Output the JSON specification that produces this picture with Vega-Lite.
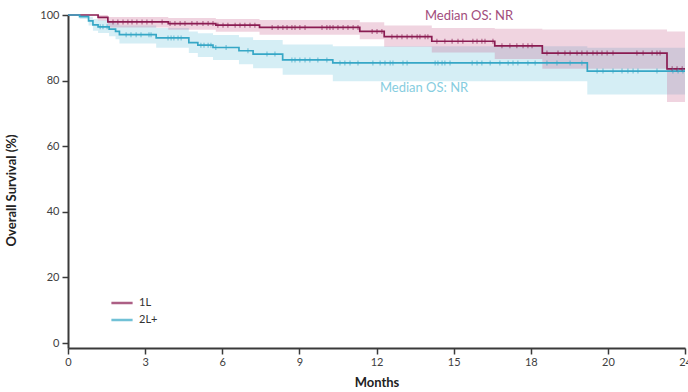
{
  "$schema": "https://vega.github.io/schema/vega-lite/v6.json",
  "width": 617,
  "height": 333,
  "autosize": "none",
  "padding": {"left": 68, "top": 15, "right": 3, "bottom": 44},
  "background": "white",
  "config": {
    "font": "Lato",
    "view": {"stroke": null},
    "axis": {
      "grid": false,
      "domainColor": "#3a3a3a",
      "domainWidth": 2,
      "tickColor": "#3a3a3a",
      "tickWidth": 1.5,
      "tickSize": 6,
      "labelFont": "Lato",
      "labelFontSize": 11,
      "labelColor": "#404040",
      "titleFont": "Lato",
      "titleFontSize": 13,
      "titleFontWeight": "bold",
      "titleColor": "#222222"
    }
  },
  "datasets": {
    "curves": [
      {"group": "1L", "month": 0, "surv": 100, "lo": 100, "hi": 100},
      {"group": "1L", "month": 1.17, "surv": 99.3, "lo": 98.3, "hi": 100},
      {"group": "1L", "month": 1.55, "surv": 97.9, "lo": 96.2, "hi": 99.4},
      {"group": "1L", "month": 3.9, "surv": 97.4, "lo": 95.5, "hi": 99.1},
      {"group": "1L", "month": 5.75, "surv": 96.9, "lo": 94.9, "hi": 98.8},
      {"group": "1L", "month": 7.45, "surv": 96.2, "lo": 94.0, "hi": 98.5},
      {"group": "1L", "month": 11.35, "surv": 95.0, "lo": 92.6, "hi": 97.8},
      {"group": "1L", "month": 12.3, "surv": 93.4, "lo": 90.3, "hi": 96.8},
      {"group": "1L", "month": 14.15, "surv": 92.0, "lo": 88.6, "hi": 96.0},
      {"group": "1L", "month": 16.6, "surv": 90.6, "lo": 86.6, "hi": 95.8},
      {"group": "1L", "month": 18.45, "surv": 88.4, "lo": 83.6, "hi": 95.6},
      {"group": "1L", "month": 23.3, "surv": 83.6, "lo": 73.5, "hi": 95.0},
      {"group": "1L", "month": 24, "surv": 83.6, "lo": 73.5, "hi": 95.0},
      {"group": "2L+", "month": 0, "surv": 100, "lo": 100, "hi": 100},
      {"group": "2L+", "month": 0.45, "surv": 99.5, "lo": 98.8, "hi": 100},
      {"group": "2L+", "month": 0.8, "surv": 98.2, "lo": 96.8, "hi": 99.5},
      {"group": "2L+", "month": 0.97, "surv": 97.0, "lo": 95.2, "hi": 98.8},
      {"group": "2L+", "month": 1.17, "surv": 96.4, "lo": 94.5, "hi": 98.4},
      {"group": "2L+", "month": 1.6, "surv": 95.7, "lo": 93.5, "hi": 97.9},
      {"group": "2L+", "month": 1.85, "surv": 95.0, "lo": 92.6, "hi": 97.4},
      {"group": "2L+", "month": 2.0, "surv": 94.0, "lo": 91.3, "hi": 96.8},
      {"group": "2L+", "month": 3.43, "surv": 93.0, "lo": 90.0, "hi": 96.0},
      {"group": "2L+", "month": 4.7, "surv": 91.6, "lo": 88.4, "hi": 95.0},
      {"group": "2L+", "month": 5.05, "surv": 90.8, "lo": 87.2, "hi": 94.4},
      {"group": "2L+", "month": 5.64, "surv": 90.1, "lo": 86.3, "hi": 93.9},
      {"group": "2L+", "month": 6.65, "surv": 89.1, "lo": 85.0, "hi": 93.2},
      {"group": "2L+", "month": 7.2, "surv": 88.1, "lo": 83.8, "hi": 92.4},
      {"group": "2L+", "month": 8.35, "surv": 86.3, "lo": 81.8, "hi": 91.0},
      {"group": "2L+", "month": 10.3, "surv": 85.4, "lo": 79.8, "hi": 90.5},
      {"group": "2L+", "month": 20.2, "surv": 82.9, "lo": 75.8, "hi": 90.0},
      {"group": "2L+", "month": 24, "surv": 82.9, "lo": 75.8, "hi": 90.0}
    ],
    "censor": [
      {"group": "1L", "month": 1.75, "surv": 97.9}, {"group": "1L", "month": 1.94, "surv": 97.9},
      {"group": "1L", "month": 2.14, "surv": 97.9}, {"group": "1L", "month": 2.33, "surv": 97.9},
      {"group": "1L", "month": 2.49, "surv": 97.9}, {"group": "1L", "month": 2.68, "surv": 97.9},
      {"group": "1L", "month": 2.88, "surv": 97.9}, {"group": "1L", "month": 3.07, "surv": 97.9},
      {"group": "1L", "month": 3.27, "surv": 97.9}, {"group": "1L", "month": 3.66, "surv": 97.9},
      {"group": "1L", "month": 3.97, "surv": 97.4}, {"group": "1L", "month": 4.16, "surv": 97.4},
      {"group": "1L", "month": 4.36, "surv": 97.4}, {"group": "1L", "month": 4.55, "surv": 97.4},
      {"group": "1L", "month": 4.82, "surv": 97.4}, {"group": "1L", "month": 5.02, "surv": 97.4},
      {"group": "1L", "month": 5.25, "surv": 97.4}, {"group": "1L", "month": 5.45, "surv": 97.4},
      {"group": "1L", "month": 5.64, "surv": 97.4},
      {"group": "1L", "month": 5.83, "surv": 96.9}, {"group": "1L", "month": 6.03, "surv": 96.9},
      {"group": "1L", "month": 6.22, "surv": 96.9}, {"group": "1L", "month": 6.5, "surv": 96.9},
      {"group": "1L", "month": 6.69, "surv": 96.9}, {"group": "1L", "month": 6.88, "surv": 96.9},
      {"group": "1L", "month": 7.08, "surv": 96.9}, {"group": "1L", "month": 7.27, "surv": 96.9},
      {"group": "1L", "month": 7.94, "surv": 96.2}, {"group": "1L", "month": 8.17, "surv": 96.2},
      {"group": "1L", "month": 8.36, "surv": 96.2}, {"group": "1L", "month": 8.52, "surv": 96.2},
      {"group": "1L", "month": 8.71, "surv": 96.2}, {"group": "1L", "month": 8.83, "surv": 96.2},
      {"group": "1L", "month": 9.02, "surv": 96.2}, {"group": "1L", "month": 9.22, "surv": 96.2},
      {"group": "1L", "month": 9.88, "surv": 96.2}, {"group": "1L", "month": 10.07, "surv": 96.2},
      {"group": "1L", "month": 10.19, "surv": 96.2}, {"group": "1L", "month": 10.31, "surv": 96.2},
      {"group": "1L", "month": 10.5, "surv": 96.2}, {"group": "1L", "month": 10.7, "surv": 96.2},
      {"group": "1L", "month": 10.89, "surv": 96.2}, {"group": "1L", "month": 11.09, "surv": 96.2},
      {"group": "1L", "month": 11.28, "surv": 96.2},
      {"group": "1L", "month": 11.83, "surv": 95.0}, {"group": "1L", "month": 12.02, "surv": 95.0},
      {"group": "1L", "month": 12.21, "surv": 95.0},
      {"group": "1L", "month": 12.6, "surv": 93.4}, {"group": "1L", "month": 12.8, "surv": 93.4},
      {"group": "1L", "month": 12.99, "surv": 93.4}, {"group": "1L", "month": 13.19, "surv": 93.4},
      {"group": "1L", "month": 13.38, "surv": 93.4}, {"group": "1L", "month": 13.58, "surv": 93.4},
      {"group": "1L", "month": 13.69, "surv": 93.4}, {"group": "1L", "month": 13.89, "surv": 93.4},
      {"group": "1L", "month": 14.0, "surv": 93.4},
      {"group": "1L", "month": 14.35, "surv": 92.0}, {"group": "1L", "month": 14.66, "surv": 92.0},
      {"group": "1L", "month": 14.94, "surv": 92.0}, {"group": "1L", "month": 15.17, "surv": 92.0},
      {"group": "1L", "month": 15.36, "surv": 92.0}, {"group": "1L", "month": 15.75, "surv": 92.0},
      {"group": "1L", "month": 15.91, "surv": 92.0}, {"group": "1L", "month": 16.1, "surv": 92.0},
      {"group": "1L", "month": 16.22, "surv": 92.0}, {"group": "1L", "month": 16.53, "surv": 92.0},
      {"group": "1L", "month": 16.88, "surv": 90.6}, {"group": "1L", "month": 17.19, "surv": 90.6},
      {"group": "1L", "month": 17.46, "surv": 90.6}, {"group": "1L", "month": 17.7, "surv": 90.6},
      {"group": "1L", "month": 17.89, "surv": 90.6}, {"group": "1L", "month": 18.05, "surv": 90.6},
      {"group": "1L", "month": 18.63, "surv": 88.4}, {"group": "1L", "month": 19.06, "surv": 88.4},
      {"group": "1L", "month": 19.33, "surv": 88.4}, {"group": "1L", "month": 19.53, "surv": 88.4},
      {"group": "1L", "month": 19.8, "surv": 88.4}, {"group": "1L", "month": 19.99, "surv": 88.4},
      {"group": "1L", "month": 20.19, "surv": 88.4}, {"group": "1L", "month": 20.42, "surv": 88.4},
      {"group": "1L", "month": 20.58, "surv": 88.4}, {"group": "1L", "month": 20.77, "surv": 88.4},
      {"group": "1L", "month": 20.97, "surv": 88.4}, {"group": "1L", "month": 21.2, "surv": 88.4},
      {"group": "1L", "month": 22.13, "surv": 88.4}, {"group": "1L", "month": 22.37, "surv": 88.4},
      {"group": "1L", "month": 22.72, "surv": 88.4}, {"group": "1L", "month": 22.91, "surv": 88.4},
      {"group": "1L", "month": 23.03, "surv": 88.4},
      {"group": "1L", "month": 23.5, "surv": 83.6}, {"group": "1L", "month": 23.69, "surv": 83.6},
      {"group": "1L", "month": 23.89, "surv": 83.6},
      {"group": "2L+", "month": 1.25, "surv": 96.4}, {"group": "2L+", "month": 1.36, "surv": 96.4},
      {"group": "2L+", "month": 1.52, "surv": 96.4},
      {"group": "2L+", "month": 2.26, "surv": 94.0}, {"group": "2L+", "month": 2.45, "surv": 94.0},
      {"group": "2L+", "month": 2.65, "surv": 94.0}, {"group": "2L+", "month": 2.84, "surv": 94.0},
      {"group": "2L+", "month": 3.15, "surv": 94.0}, {"group": "2L+", "month": 3.23, "surv": 94.0},
      {"group": "2L+", "month": 3.89, "surv": 93.0}, {"group": "2L+", "month": 4.01, "surv": 93.0},
      {"group": "2L+", "month": 4.12, "surv": 93.0}, {"group": "2L+", "month": 4.28, "surv": 93.0},
      {"group": "2L+", "month": 4.4, "surv": 93.0},
      {"group": "2L+", "month": 5.17, "surv": 90.8}, {"group": "2L+", "month": 5.29, "surv": 90.8},
      {"group": "2L+", "month": 5.45, "surv": 90.8}, {"group": "2L+", "month": 5.56, "surv": 90.8},
      {"group": "2L+", "month": 5.75, "surv": 90.1}, {"group": "2L+", "month": 6.15, "surv": 90.1},
      {"group": "2L+", "month": 7.0, "surv": 89.1},
      {"group": "2L+", "month": 7.74, "surv": 88.1}, {"group": "2L+", "month": 8.05, "surv": 88.1},
      {"group": "2L+", "month": 8.71, "surv": 86.3}, {"group": "2L+", "month": 8.83, "surv": 86.3},
      {"group": "2L+", "month": 9.02, "surv": 86.3}, {"group": "2L+", "month": 9.22, "surv": 86.3},
      {"group": "2L+", "month": 9.41, "surv": 86.3}, {"group": "2L+", "month": 9.72, "surv": 86.3},
      {"group": "2L+", "month": 10.07, "surv": 86.3},
      {"group": "2L+", "month": 10.58, "surv": 85.4}, {"group": "2L+", "month": 10.77, "surv": 85.4},
      {"group": "2L+", "month": 10.97, "surv": 85.4}, {"group": "2L+", "month": 11.28, "surv": 85.4},
      {"group": "2L+", "month": 11.86, "surv": 85.4}, {"group": "2L+", "month": 12.14, "surv": 85.4},
      {"group": "2L+", "month": 12.33, "surv": 85.4}, {"group": "2L+", "month": 12.53, "surv": 85.4},
      {"group": "2L+", "month": 12.64, "surv": 85.4}, {"group": "2L+", "month": 13.03, "surv": 85.4},
      {"group": "2L+", "month": 13.19, "surv": 85.4}, {"group": "2L+", "month": 14.28, "surv": 85.4},
      {"group": "2L+", "month": 14.39, "surv": 85.4}, {"group": "2L+", "month": 14.55, "surv": 85.4},
      {"group": "2L+", "month": 14.66, "surv": 85.4}, {"group": "2L+", "month": 14.86, "surv": 85.4},
      {"group": "2L+", "month": 15.72, "surv": 85.4}, {"group": "2L+", "month": 15.91, "surv": 85.4},
      {"group": "2L+", "month": 16.1, "surv": 85.4}, {"group": "2L+", "month": 16.42, "surv": 85.4},
      {"group": "2L+", "month": 16.8, "surv": 85.4}, {"group": "2L+", "month": 17.12, "surv": 85.4},
      {"group": "2L+", "month": 17.31, "surv": 85.4}, {"group": "2L+", "month": 17.5, "surv": 85.4},
      {"group": "2L+", "month": 17.89, "surv": 85.4}, {"group": "2L+", "month": 18.17, "surv": 85.4},
      {"group": "2L+", "month": 18.63, "surv": 85.4}, {"group": "2L+", "month": 19.02, "surv": 85.4},
      {"group": "2L+", "month": 19.53, "surv": 85.4}, {"group": "2L+", "month": 19.99, "surv": 85.4},
      {"group": "2L+", "month": 20.58, "surv": 82.9}, {"group": "2L+", "month": 20.81, "surv": 82.9},
      {"group": "2L+", "month": 21.2, "surv": 82.9}, {"group": "2L+", "month": 21.55, "surv": 82.9},
      {"group": "2L+", "month": 21.78, "surv": 82.9}, {"group": "2L+", "month": 21.98, "surv": 82.9},
      {"group": "2L+", "month": 22.17, "surv": 82.9}, {"group": "2L+", "month": 22.91, "surv": 82.9},
      {"group": "2L+", "month": 23.53, "surv": 82.9}, {"group": "2L+", "month": 23.73, "surv": 82.9},
      {"group": "2L+", "month": 23.92, "surv": 82.9}
    ]
  },
  "layer": [
    {
      "data": {"name": "curves"},
      "transform": [{"filter": "datum.group == '2L+'"}],
      "mark": {"type": "area", "interpolate": "step-after", "fill": "#5bbcd8", "fillOpacity": 0.26},
      "encoding": {
        "x": {"field": "month", "type": "quantitative"},
        "y": {"field": "lo", "type": "quantitative"},
        "y2": {"field": "hi"}
      }
    },
    {
      "data": {"name": "curves"},
      "transform": [{"filter": "datum.group == '1L'"}],
      "mark": {"type": "area", "interpolate": "step-after", "fill": "#c45a86", "fillOpacity": 0.26},
      "encoding": {
        "x": {"field": "month", "type": "quantitative"},
        "y": {"field": "lo", "type": "quantitative"},
        "y2": {"field": "hi"}
      }
    },
    {
      "data": {"name": "curves"},
      "mark": {"type": "line", "interpolate": "step-after", "strokeWidth": 1.7},
      "encoding": {
        "x": {"field": "month", "type": "quantitative",
          "scale": {"domain": [0, 24], "nice": false},
          "axis": {"values": [0, 3, 6, 9, 12, 15, 18, 21, 24],
            "labelExpr": "datum.value == 21 ? '20' : datum.label",
            "labelFlush": false,
            "title": "Months", "titlePadding": 9, "labelPadding": 2}},
        "y": {"field": "surv", "type": "quantitative",
          "scale": {"domain": [-1.5, 100], "nice": false, "zero": false},
          "axis": {"values": [0, 20, 40, 60, 80, 100], "title": "Overall Survival (%)",
            "titleX": -50, "titleY": 175, "labelPadding": 3, "labelFlush": false}},
        "color": {"field": "group", "type": "nominal",
          "scale": {"domain": ["1L", "2L+"], "range": ["#8a1c52", "#36a7c6"]},
          "legend": {"title": null, "orient": "none", "legendX": 42, "legendY": 276,
            "symbolType": "stroke", "symbolSize": 450, "symbolStrokeWidth": 2.5,
            "labelFont": "Lato", "labelFontSize": 11, "labelColor": "#333333",
            "rowPadding": 0, "padding": 0, "labelOffset": 5}}
      }
    },
    {
      "data": {"name": "censor"},
      "mark": {"type": "tick", "orient": "vertical", "size": 5, "thickness": 1},
      "encoding": {
        "x": {"field": "month", "type": "quantitative"},
        "y": {"field": "surv", "type": "quantitative"},
        "color": {"field": "group", "type": "nominal"}
      }
    },
    {
      "data": {"values": [{"month": 15.6, "surv": 99.7, "label": "Median OS: NR"}]},
      "mark": {"type": "text", "font": "Lato", "fontSize": 13, "color": "#a24d7c"},
      "encoding": {
        "x": {"field": "month", "type": "quantitative"},
        "y": {"field": "surv", "type": "quantitative"},
        "text": {"field": "label"}
      }
    },
    {
      "data": {"values": [{"month": 13.85, "surv": 77.6, "label": "Median OS: NR"}]},
      "mark": {"type": "text", "font": "Lato", "fontSize": 13, "color": "#86cde0"},
      "encoding": {
        "x": {"field": "month", "type": "quantitative"},
        "y": {"field": "surv", "type": "quantitative"},
        "text": {"field": "label"}
      }
    }
  ]
}
